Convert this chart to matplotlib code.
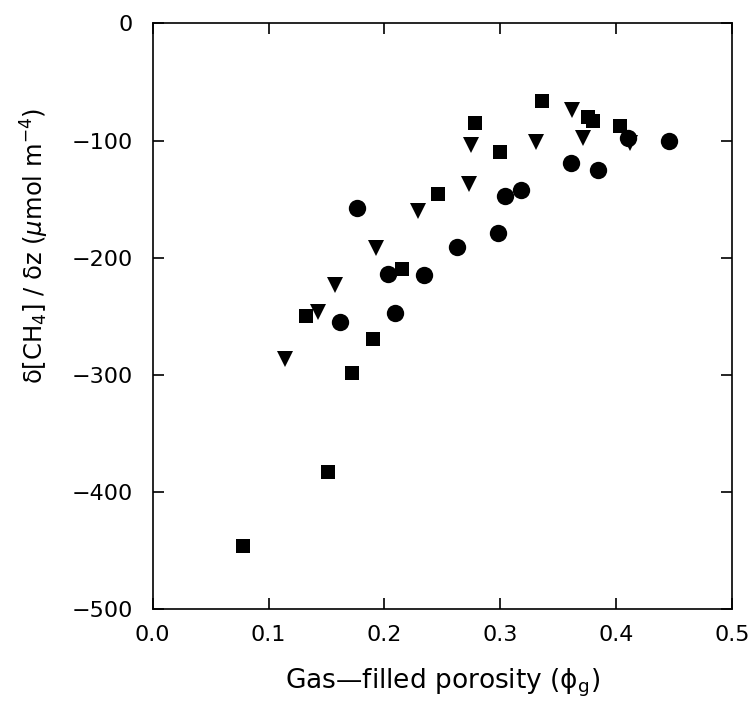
import matplotlib
matplotlib.use('Agg')
import matplotlib.pyplot as plt

# squares
sq_x = [0.078, 0.151, 0.132, 0.172, 0.190, 0.215, 0.246, 0.278, 0.300, 0.336, 0.376, 0.380, 0.403]
sq_y = [-446, -383, -250, -298, -269, -210, -146, -85, -110, -66, -80, -83, -88]

# downward triangles
tri_x = [0.114, 0.143, 0.157, 0.193, 0.229, 0.273, 0.275, 0.331, 0.362, 0.371, 0.412]
tri_y = [-286, -246, -223, -192, -160, -137, -104, -101, -74, -98, -102]

# circles
circ_x = [0.176, 0.2035, 0.2345, 0.209, 0.162, 0.263, 0.298, 0.304, 0.318, 0.361, 0.384, 0.410, 0.446]
circ_y = [-158, -214, -215, -247, -255, -191, -179, -147, -142, -119, -125, -98, -100]

x_ticks = [0.0, 0.1, 0.2, 0.3, 0.4, 0.5]
y_ticks = [0, -100, -200, -300, -400, -500]

fig = plt.figure(figsize=(7.52, 7.11), dpi=100)
ax = fig.add_axes([0.203, 0.143, 0.7705, 0.8242])

ax.plot(sq_x, sq_y, 's', color='black', ms=10, mew=0)
ax.plot(tri_x, tri_y, 'v', color='black', ms=12, mew=0)
ax.plot(circ_x, circ_y, 'o', color='black', ms=12.5, mew=0)

ax.set_xlim(0, 0.5)
ax.set_ylim(-500, 0)
ax.set_xticks(x_ticks)
ax.set_xticklabels(['%.1f' % t for t in x_ticks])
ax.set_yticks(y_ticks)

ax.tick_params(direction='in', length=8, width=1.2, labelsize=16,
               top=True, right=True)
ax.tick_params(axis='x', pad=11)
ax.tick_params(axis='y', pad=14)
for s in ax.spines.values():
    s.set_linewidth(1.2)

ax.set_xlabel('Gas—filled porosity (ϕ$_{\\mathrm{g}}$)', fontsize=19, labelpad=16)
ax.set_ylabel('δ[CH$_4$] / δz ($\\mu$mol m$^{-4}$)', fontsize=17.5)
ax.yaxis.set_label_coords(-0.175, 0.62)

fig.savefig('out.png', dpi=100)
